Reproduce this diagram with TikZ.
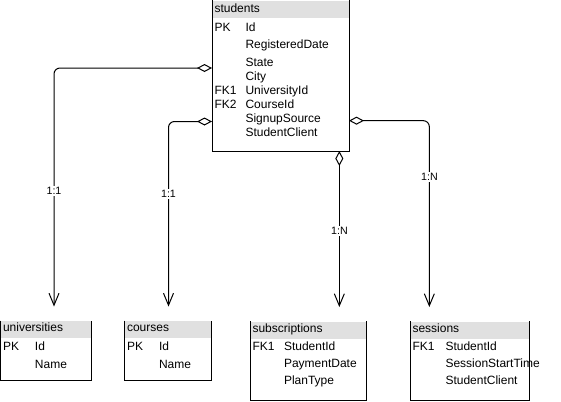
\documentclass[tikz,border=0pt]{standalone}
\usepackage{fontspec}
\setmainfont{Liberation Sans}
\usetikzlibrary{arrows.meta}
\definecolor{hdrgray}{RGB}{224,224,224}
\begin{document}
\begin{tikzpicture}[x=0.75pt,y=-0.75pt,line width=0.75pt,
  txt/.style={anchor=base west,inner sep=0pt,font=\fontsize{9}{10}\selectfont},
  tbl/.style={draw=none,inner sep=0pt,anchor=north west},
  hdr/.style={fill=hdrgray,draw=none,inner sep=0pt,anchor=north west},
  rel/.style={rounded corners=4.5pt,shorten >=10.5pt,
    {Diamond[open,length=11.25pt,width=6pt]}-{Straight Barb[length=9pt,width=7.5pt]}},
  lbl/.style={fill=white,inner sep=1pt,font=\fontsize{8}{9}\selectfont}]
\useasboundingbox (0,0) rectangle (561,401);

% ---------- tables ----------
\node[hdr,minimum width=102pt,minimum height=13.125pt] (students-h) at (212,0) {};
\node[tbl,minimum width=102pt,minimum height=112.5pt] (students) at (212,0) {};
\draw (students.north west) -- (students.south west) -- (students.south east) -- (students.north east);

\node[hdr,minimum width=67.125pt,minimum height=12.75pt] (univ-h) at (0.5,320.5) {};
\node[tbl,minimum width=67.125pt,minimum height=43.875pt] (univ) at (0.5,320.5) {};
\draw (univ.north west) -- (univ.south west) -- (univ.south east) -- (univ.north east);

\node[hdr,minimum width=64.5pt,minimum height=12.75pt] (courses-h) at (124.5,320.5) {};
\node[tbl,minimum width=64.5pt,minimum height=43.875pt] (courses) at (124.5,320.5) {};
\draw (courses.north west) -- (courses.south west) -- (courses.south east) -- (courses.north east);

\node[hdr,minimum width=86.25pt,minimum height=12.75pt] (subs-h) at (250,321) {};
\node[tbl,minimum width=86.25pt,minimum height=58.875pt] (subs) at (250,321) {};
\draw (subs.north west) -- (subs.south west) -- (subs.south east) -- (subs.north east);

\node[hdr,minimum width=88.5pt,minimum height=12.75pt] (sess-h) at (410,321) {};
\node[tbl,minimum width=88.5pt,minimum height=58.875pt] (sess) at (410,321) {};
\draw (sess.north west) -- (sess.south west) -- (sess.south east) -- (sess.north east);

% ---------- texts: students ----------
\node[txt] (t-students) at (214,12.5) {students};
\node[txt] (k-s1) at (214,31) {PK};
\node[txt] (f-s1) at (245,31) {Id};
\node[txt] (f-s2) at (245,48.5) {RegisteredDate};
\node[txt] (f-s3) at (245,66) {State};
\node[txt] (f-s4) at (245,80.5) {City};
\node[txt] (k-s5) at (214,94.5) {FK1};
\node[txt] (f-s5) at (245,94.5) {UniversityId};
\node[txt] (k-s6) at (214,108.3) {FK2};
\node[txt] (f-s6) at (245,108.3) {CourseId};
\node[txt] (f-s7) at (245,122) {SignupSource};
\node[txt] (f-s8) at (245,136.5) {StudentClient};

% ---------- texts: universities ----------
\node[txt] (t-univ) at (2.5,331.5) {universities};
\node[txt] (k-u1) at (2.5,350.5) {PK};
\node[txt] (f-u1) at (34.5,350.5) {Id};
\node[txt] (f-u2) at (34.5,368) {Name};

% ---------- texts: courses ----------
\node[txt] (t-courses) at (126.5,331.5) {courses};
\node[txt] (k-c1) at (126.5,350.5) {PK};
\node[txt] (f-c1) at (158.5,350.5) {Id};
\node[txt] (f-c2) at (158.5,368) {Name};

% ---------- texts: subscriptions ----------
\node[txt] (t-subs) at (252,332) {subscriptions};
\node[txt] (k-b1) at (252,350.5) {FK1};
\node[txt] (f-b1) at (283.5,350.5) {StudentId};
\node[txt] (f-b2) at (283.5,367.5) {PaymentDate};
\node[txt] (f-b3) at (283.5,384.5) {PlanType};

% ---------- texts: sessions ----------
\node[txt] (t-sess) at (412,332) {sessions};
\node[txt] (k-e1) at (412,350.5) {FK1};
\node[txt] (f-e1) at (445,350.5) {StudentId};
\node[txt] (f-e2) at (445,367.5) {SessionStartTime};
\node[txt] (f-e3) at (445,384.5) {StudentClient};

% ---------- relations ----------
\draw[rel] ([yshift=-51pt]students.north west) -| ([xshift=40.125pt]univ.north west);
\draw[rel] ([yshift=-91.125pt]students.north west) -| ([xshift=33pt]courses.north west);
\draw[rel] ([xshift=95.5pt]students.south west) -- ([xshift=67pt]subs.north west);
\draw[rel] ([yshift=-90.5pt]students.north east) -| ([xshift=14.5pt]sess.north west);

\node[lbl] (l1) at (54,190.5) {1:1};
\node[lbl] (l2) at (168.5,194) {1:1};
\node[lbl] (l3) at (339.5,230.5) {1:N};
\node[lbl] (l4) at (429.5,177) {1:N};
\end{tikzpicture}
\end{document}
